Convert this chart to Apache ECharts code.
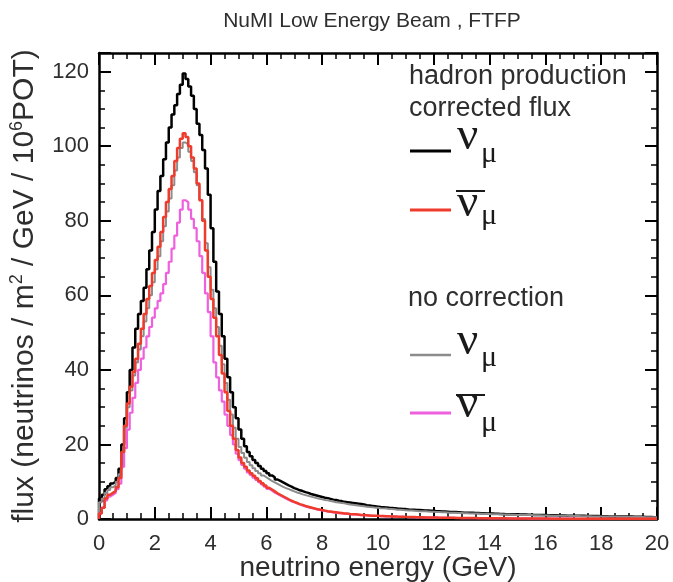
<!DOCTYPE html>
<html>
<head>
<meta charset="utf-8">
<script src="https://cdn.jsdelivr.net/npm/echarts@6/dist/echarts.min.js"></script>
<style>html,body{margin:0;padding:0;background:#fff;}#c{width:673px;height:582px;}</style>
</head>
<body>
<div id="c"></div>
<script>
// Bin edges: 0.1 GeV wide bins from 0 to 20 GeV
const binWidth = 0.1;
const xTicks = [0, 2, 4, 6, 8, 10, 12, 14, 16, 18, 20];
const yTicks = [0, 20, 40, 60, 80, 100, 120];

// hadron production corrected flux, nu_mu
const numuCorr = [
  5.5, 6.5, 8, 8.8, 9.5, 10, 11, 13.5, 20, 27,
  34, 40, 46, 51, 55, 58.5, 62, 67, 72, 77,
  83, 88, 92, 96.5, 101, 105, 108.5, 111, 114, 116.5,
  119.5, 118, 116, 113.5, 110, 106, 103, 99, 94, 87,
  78, 69, 61, 55, 49, 43, 38, 34, 30, 27,
  24, 21.5, 19.5, 18, 16.8, 15.8, 15, 14.2, 13.5, 12.9,
  12.3, 11.7, 11.2, 10.6, 10.2, 9.8, 9.4, 9.0, 8.7, 8.3,
  8.0, 7.7, 7.5, 7.2, 7.0, 6.7, 6.5, 6.3, 6.1, 5.9,
  5.7, 5.6, 5.4, 5.2, 5.1, 4.9, 4.8, 4.6, 4.5, 4.4,
  4.3, 4.2, 4.1, 4.0, 3.9, 3.7, 3.6, 3.5, 3.4, 3.3,
  3.2, 3.15, 3.1, 3.0, 2.95, 2.9, 2.8, 2.75, 2.7, 2.65,
  2.55, 2.5, 2.45, 2.4, 2.4, 2.35, 2.3, 2.25, 2.2, 2.2,
  2.1, 2.05, 2.0, 2.0, 1.95, 1.9, 1.9, 1.85, 1.8, 1.75,
  1.7, 1.7, 1.65, 1.65, 1.6, 1.6, 1.55, 1.55, 1.5, 1.5,
  1.45, 1.4, 1.4, 1.35, 1.35, 1.3, 1.3, 1.3, 1.25, 1.25,
  1.2, 1.2, 1.2, 1.15, 1.15, 1.1, 1.1, 1.1, 1.05, 1.05,
  1.0, 1.0, 1.0, 1.0, 0.95, 0.95, 0.95, 0.9, 0.9, 0.9,
  0.9, 0.85, 0.85, 0.85, 0.8, 0.8, 0.8, 0.8, 0.8, 0.75,
  0.75, 0.75, 0.7, 0.7, 0.7, 0.7, 0.7, 0.65, 0.65, 0.65,
  0.65, 0.6, 0.6, 0.6, 0.6, 0.55, 0.55, 0.55, 0.5, 0.5
];
// hadron production corrected flux, anti nu_mu
const anumuCorr = [
  1.5, 3, 5.5, 6.5, 7, 7.5, 8.5, 11, 18, 25,
  31, 35.5, 39.5, 43, 47, 51, 55, 59, 62.5, 66,
  69.5, 73, 77, 81, 85, 88.5, 92, 96, 99.5, 102,
  103.5, 102.5, 100, 97, 94, 90, 85.5, 80, 72, 65,
  59, 54, 49, 44, 39, 34, 29, 25, 21.5, 18.5,
  16.5, 15, 14, 13, 12.3, 11.6, 10.9, 10.2, 9.6, 9.0,
  8.4, 7.9, 7.4, 6.9, 6.5, 6.1, 5.7, 5.3, 4.9, 4.6,
  4.3, 4.0, 3.8, 3.5, 3.3, 3.1, 2.9, 2.7, 2.55, 2.4,
  2.25, 2.1, 2.0, 1.9, 1.8, 1.7, 1.6, 1.5, 1.45, 1.35,
  1.3, 1.25, 1.2, 1.1, 1.05, 1.0, 0.95, 0.9, 0.9, 0.85,
  0.8, 0.78, 0.75, 0.72, 0.7, 0.67, 0.64, 0.62, 0.6, 0.57,
  0.55, 0.53, 0.51, 0.49, 0.47, 0.45, 0.43, 0.42, 0.4, 0.39,
  0.38, 0.36, 0.35, 0.34, 0.33, 0.32, 0.31, 0.3, 0.29, 0.28,
  0.27, 0.26, 0.25, 0.25, 0.24, 0.23, 0.22, 0.22, 0.21, 0.2,
  0.2, 0.19, 0.19, 0.18, 0.17, 0.17, 0.16, 0.16, 0.15, 0.15,
  0.14, 0.14, 0.14, 0.13, 0.13, 0.12, 0.12, 0.12, 0.11, 0.11,
  0.11, 0.1, 0.1, 0.1, 0.1, 0.09, 0.09, 0.09, 0.09, 0.08,
  0.08, 0.08, 0.08, 0.08, 0.07, 0.07, 0.07, 0.07, 0.07, 0.06,
  0.06, 0.06, 0.06, 0.06, 0.06, 0.05, 0.05, 0.05, 0.05, 0.05,
  0.05, 0.05, 0.04, 0.04, 0.04, 0.04, 0.04, 0.04, 0.04, 0.04
];
// no correction, nu_mu
const numuNoCorr = [
  4.5, 5.5, 7, 7.8, 8.5, 9, 10, 12, 18, 24.5,
  30, 34.5, 38.5, 42, 45.5, 49, 53, 56.5, 60, 63.5,
  67, 70.5, 74.5, 78.5, 82.5, 86, 89.5, 93.5, 97, 99.5,
  101, 100.5, 98.5, 96, 93, 89.5, 85.5, 80.5, 74, 67.5,
  61.5, 56.5, 51.5, 46.5, 41.5, 36.5, 32, 28, 24.5, 21.5,
  19.3, 17.7, 16.4, 15.3, 14.4, 13.6, 12.9, 12.3, 11.7, 11.2,
  10.7, 10.2, 9.8, 9.4, 9.0, 8.6, 8.3, 8.0, 7.7, 7.4,
  7.1, 6.9, 6.6, 6.4, 6.2, 6.0, 5.8, 5.6, 5.4, 5.3,
  5.1, 5.0, 4.8, 4.7, 4.5, 4.4, 4.3, 4.2, 4.0, 3.9,
  3.8, 3.7, 3.6, 3.5, 3.4, 3.3, 3.2, 3.15, 3.05, 3.0,
  2.9, 2.85, 2.8, 2.7, 2.65, 2.6, 2.5, 2.45, 2.4, 2.35,
  2.3, 2.25, 2.2, 2.15, 2.1, 2.1, 2.05, 2.0, 1.95, 1.95,
  1.9, 1.85, 1.8, 1.8, 1.75, 1.7, 1.7, 1.65, 1.6, 1.6,
  1.55, 1.55, 1.5, 1.5, 1.45, 1.45, 1.4, 1.4, 1.35, 1.35,
  1.3, 1.3, 1.25, 1.25, 1.2, 1.2, 1.2, 1.15, 1.15, 1.1,
  1.1, 1.1, 1.05, 1.05, 1.05, 1.0, 1.0, 1.0, 0.95, 0.95,
  0.95, 0.9, 0.9, 0.9, 0.85, 0.85, 0.85, 0.85, 0.8, 0.8,
  0.8, 0.8, 0.75, 0.75, 0.75, 0.75, 0.7, 0.7, 0.7, 0.7,
  0.7, 0.65, 0.65, 0.65, 0.65, 0.6, 0.6, 0.6, 0.6, 0.6,
  0.55, 0.55, 0.55, 0.55, 0.55, 0.5, 0.5, 0.5, 0.5, 0.45
];
// no correction, anti nu_mu
const anumuNoCorr = [
  1.5, 3, 5, 6, 6.5, 7, 8, 9.5, 14, 19,
  24, 28.5, 32.5, 36.5, 40, 43, 46, 49, 51.5, 54,
  56.5, 58.5, 60.5, 63, 66, 69, 72.5, 76, 79.5, 83,
  85.5, 85, 83, 80.5, 78, 74.5, 70.5, 66, 60.5, 55.5,
  49, 42, 38, 34.5, 31.5, 28, 25, 22.5, 20, 17.5,
  15.8, 14.5, 13.5, 12.5, 11.8, 11.1, 10.5, 9.9, 9.3, 8.7,
  8.1, 7.6, 7.1, 6.7, 6.3, 5.9, 5.5, 5.1, 4.8, 4.5,
  4.2, 3.9, 3.6, 3.4, 3.2, 3.0, 2.8, 2.6, 2.45, 2.3,
  2.15, 2.0, 1.9, 1.8, 1.7, 1.6, 1.5, 1.45, 1.35, 1.3,
  1.25, 1.2, 1.1, 1.05, 1.0, 0.95, 0.9, 0.87, 0.83, 0.8,
  0.76, 0.73, 0.7, 0.68, 0.65, 0.62, 0.6, 0.58, 0.56, 0.54,
  0.52, 0.5, 0.48, 0.46, 0.44, 0.42, 0.41, 0.4, 0.38, 0.37,
  0.36, 0.34, 0.33, 0.32, 0.31, 0.3, 0.29, 0.28, 0.27, 0.26,
  0.25, 0.25, 0.24, 0.23, 0.22, 0.22, 0.21, 0.2, 0.2, 0.19,
  0.18, 0.18, 0.17, 0.17, 0.16, 0.16, 0.15, 0.15, 0.14, 0.14,
  0.13, 0.13, 0.13, 0.12, 0.12, 0.11, 0.11, 0.11, 0.1, 0.1,
  0.1, 0.1, 0.09, 0.09, 0.09, 0.09, 0.08, 0.08, 0.08, 0.08,
  0.07, 0.07, 0.07, 0.07, 0.07, 0.06, 0.06, 0.06, 0.06, 0.06,
  0.06, 0.05, 0.05, 0.05, 0.05, 0.05, 0.05, 0.05, 0.04, 0.04,
  0.04, 0.04, 0.04, 0.04, 0.04, 0.04, 0.03, 0.03, 0.03, 0.03
];

function histData(vals) {
  const d = [[0, 0]];
  for (let i = 0; i < vals.length; i++) d.push([+(i * binWidth).toFixed(2), vals[i]]);
  d.push([+(vals.length * binWidth).toFixed(2), vals[vals.length - 1]]);
  return d;
}

const FONT = 'Liberation Sans';
const SERIF = 'Liberation Serif';
const TXT = '#2e2e2e';

function xAxisCfg(pos, labels) {
  return {
    type: 'value', min: 0, max: 20, interval: 2, position: pos,
    axisLine: { show: true, onZero: false, lineStyle: { color: '#000', width: 2.5 } },
    axisTick: { show: true, inside: true, length: 12, lineStyle: { color: '#000', width: 2 } },
    minorTick: { show: true, splitNumber: 4, length: 6, lineStyle: { color: '#000', width: 1.5 } },
    splitLine: { show: false }, minorSplitLine: { show: false },
    axisLabel: labels ? {
      show: true, fontSize: 22, color: TXT, fontFamily: FONT, margin: 14,
      formatter: v => (xTicks.indexOf(v) >= 0 ? String(v) : '')
    } : { show: false },
    name: labels ? 'neutrino energy (GeV)' : '',
    nameLocation: 'middle', nameGap: 35, nameMoveOverlap: false,
    nameTextStyle: { fontSize: 28, color: TXT, fontFamily: FONT }
  };
}
function yAxisCfg(pos, major, labels) {
  return {
    type: 'value', min: 0, max: 125, interval: major ? 20 : 5, position: pos,
    axisLine: { show: major, onZero: false, lineStyle: { color: '#000', width: 2.5 } },
    axisTick: { show: true, inside: true, length: major ? 12 : 6, lineStyle: { color: '#000', width: major ? 2 : 1.5 } },
    splitLine: { show: false },
    axisLabel: labels ? {
      show: true, fontSize: 22, color: TXT, fontFamily: FONT, margin: 10,
      formatter: v => (yTicks.indexOf(v) >= 0 ? String(v) : '')
    } : { show: false },
    name: labels ? 'flux (neutrinos / m{sup|2} / GeV / 10{sup|6}POT)' : '',
    nameLocation: 'middle', nameGap: 57, nameRotate: 90, nameMoveOverlap: false,
    nameTextStyle: {
      fontSize: 30, color: TXT, fontFamily: FONT, lineHeight: 34,
      rich: { sup: { fontSize: 18, fontFamily: FONT, color: TXT, verticalAlign: 'top', lineHeight: 19 } }
    }
  };
}

function stepSeries(name, vals, color, width, z) {
  return {
    name: name, type: 'line', step: 'end', xAxisIndex: 0, yAxisIndex: 0,
    data: histData(vals), showSymbol: false, symbol: 'none', z: z,
    lineStyle: { color: color, width: width }, itemStyle: { color: color },
    animation: false
  };
}

const C_BLACK = '#000000', C_RED = '#ee3b2b', C_GRAY = '#8c8c8c', C_MAG = '#ee60dd';

function legendEntry(yLine, yNu, yMu, color, bar, width) {
  const els = [
    { type: 'line', shape: { x1: 410, y1: yLine, x2: 451, y2: yLine }, style: { stroke: color, lineWidth: width } },
    { type: 'text', x: 457, y: yNu, style: { text: 'ν', fontSize: 47, fontFamily: SERIF, fill: '#1a1a1a', align: 'left', verticalAlign: 'middle' } },
    { type: 'text', x: 481, y: yMu, style: { text: 'μ', fontSize: 30, fontFamily: SERIF, fill: '#1a1a1a', align: 'left', verticalAlign: 'middle' } }
  ];
  if (bar !== null) {
    els.push({ type: 'line', shape: { x1: 456, y1: bar, x2: 485, y2: bar }, style: { stroke: '#1a1a1a', lineWidth: 2 } });
  }
  return els;
}

const chart = echarts.init(document.getElementById('c'), null, { renderer: 'canvas' });
chart.setOption({
  animation: false,
  backgroundColor: '#fff',
  title: {
    text: 'NuMI Low Energy Beam , FTFP', left: 367, top: 6, textAlign: 'center',
    textStyle: { fontSize: 21, fontWeight: 'normal', color: TXT, fontFamily: FONT }
  },
  grid: { left: 99, right: 16, top: 53, bottom: 63, containLabel: false, outerBoundsMode: 'none' },
  xAxis: [xAxisCfg('bottom', true), xAxisCfg('top', false)],
  yAxis: [yAxisCfg('left', true, true), yAxisCfg('left', false, false), yAxisCfg('right', true, false), yAxisCfg('right', false, false)],
  series: [
    stepSeries('νμ corrected', numuCorr, C_BLACK, 2.5, 4),
    stepSeries('νμ no correction', numuNoCorr, C_GRAY, 2, 5),
    stepSeries('anti-νμ no correction', anumuNoCorr, C_MAG, 2.2, 6),
    stepSeries('anti-νμ corrected', anumuCorr, C_RED, 2.5, 7)
  ],
  graphic: [
    { type: 'text', x: 409, y: 77, style: { text: 'hadron production', fontSize: 27, fontFamily: FONT, fill: TXT, align: 'left', verticalAlign: 'middle' } },
    { type: 'text', x: 409, y: 109, style: { text: 'corrected flux', fontSize: 27, fontFamily: FONT, fill: TXT, align: 'left', verticalAlign: 'middle' } },
    { type: 'text', x: 408, y: 299, style: { text: 'no correction', fontSize: 27, fontFamily: FONT, fill: TXT, align: 'left', verticalAlign: 'middle' } }
  ].concat(
    legendEntry(151, 137, 154, C_BLACK, null, 3),
    legendEntry(210, 204, 216, C_RED, 191, 3),
    legendEntry(355, 342, 358, C_GRAY, null, 2.5),
    legendEntry(413, 405, 423, C_MAG, 395, 3)
  )
});
</script>
</body>
</html>
